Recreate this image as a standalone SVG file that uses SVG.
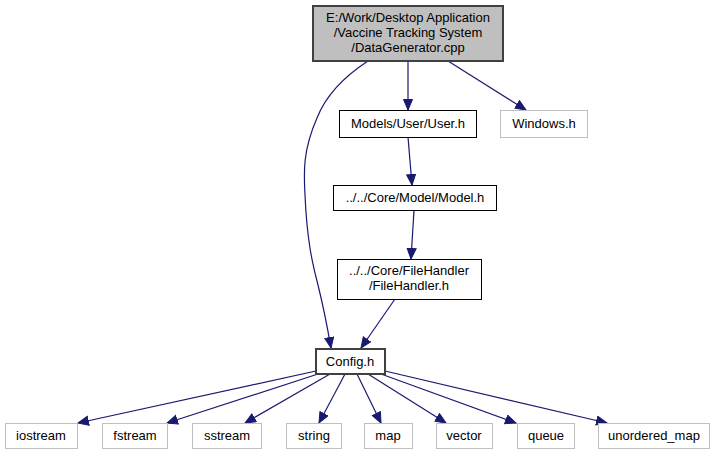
<svg xmlns="http://www.w3.org/2000/svg" width="714" height="455" viewBox="0 0 714 455">
<style>
.n rect{fill:#fff;stroke:#000;stroke-width:1}
.g rect{fill:#fff;stroke:#bfbfbf;stroke-width:1}
.top rect{fill:#bfbfbf;stroke:#404040;stroke-width:2}
.cur rect{fill:#fff;stroke:#404040;stroke-width:2}
text{font-family:"Liberation Sans",Arial,sans-serif;font-size:13px;fill:#000;text-anchor:middle}
.e path{fill:none;stroke:#191970;stroke-width:1.2;marker-end:url(#ah)}
</style>
<defs>
<marker id="ah" markerUnits="userSpaceOnUse" markerWidth="13" markerHeight="11" refX="11" refY="5" orient="auto">
<path d="M0.5,0.5 L11,5 L0.5,9.5 z" fill="#191970" stroke="#191970" stroke-width="1"/>
</marker>
</defs>
<rect width="714" height="455" fill="#fff"/>
<g class="e" id="edges">
<path d="M408,61 V110"/>
<path d="M448,61 L526,110"/>
<path d="M368,61 C345,76 326,95 317,118 C302,152 304,175 305,195 C307,240 312,262 318,285 C323,305 327,325 331,348"/>
<path d="M408,137 L412,185"/>
<path d="M414,210 L411,259"/>
<path d="M395,299 L361,348"/>
<path d="M316,371 L78,423"/>
<path d="M318,374 L167,423"/>
<path d="M330,374 L245,423"/>
<path d="M345,374 L319,423"/>
<path d="M357,374 L381,423"/>
<path d="M368,374 L446,423"/>
<path d="M381,374 L516,423"/>
<path d="M385,371 L607,423"/>
</g>
<g id="n_top" class="top"><rect x="313" y="6" width="190" height="55"/><text x="408" y="22">E:/Work/Desktop Application</text><text x="408" y="37">/Vaccine Tracking System</text><text x="408" y="52">/DataGenerator.cpp</text></g>
<g id="n_user" class="n"><rect x="339.5" y="110.5" width="137" height="27"/><text x="408" y="128">Models/User/User.h</text></g>
<g id="n_windows" class="g"><rect x="500.5" y="110.5" width="87" height="27"/><text x="544" y="128">Windows.h</text></g>
<g id="n_model" class="n"><rect x="333.5" y="185.5" width="163" height="25"/><text x="415" y="202">../../Core/Model/Model.h</text></g>
<g id="n_filehandler" class="n"><rect x="337.5" y="259.5" width="144" height="40"/><text x="409" y="275">../../Core/FileHandler</text><text x="409" y="290">/FileHandler.h</text></g>
<g id="n_config" class="cur"><rect x="316" y="349" width="69" height="25"/><text x="350" y="366">Config.h</text></g>
<g id="n_iostream" class="g"><rect x="5.5" y="423.5" width="72" height="25"/><text x="41" y="440">iostream</text></g>
<g id="n_fstream" class="g"><rect x="102.5" y="423.5" width="65" height="25"/><text x="135" y="440">fstream</text></g>
<g id="n_sstream" class="g"><rect x="192.5" y="423.5" width="69" height="25"/><text x="227" y="440">sstream</text></g>
<g id="n_string" class="g"><rect x="286.5" y="423.5" width="55" height="25"/><text x="314" y="440">string</text></g>
<g id="n_map" class="g"><rect x="364.5" y="423.5" width="48" height="25"/><text x="388" y="440">map</text></g>
<g id="n_vector" class="g"><rect x="436.5" y="423.5" width="56" height="25"/><text x="464" y="440">vector</text></g>
<g id="n_queue" class="g"><rect x="517.5" y="423.5" width="57" height="25"/><text x="546" y="440">queue</text></g>
<g id="n_unordered_map" class="g"><rect x="598.5" y="423.5" width="111" height="25"/><text x="654" y="440">unordered_map</text></g>
</svg>
